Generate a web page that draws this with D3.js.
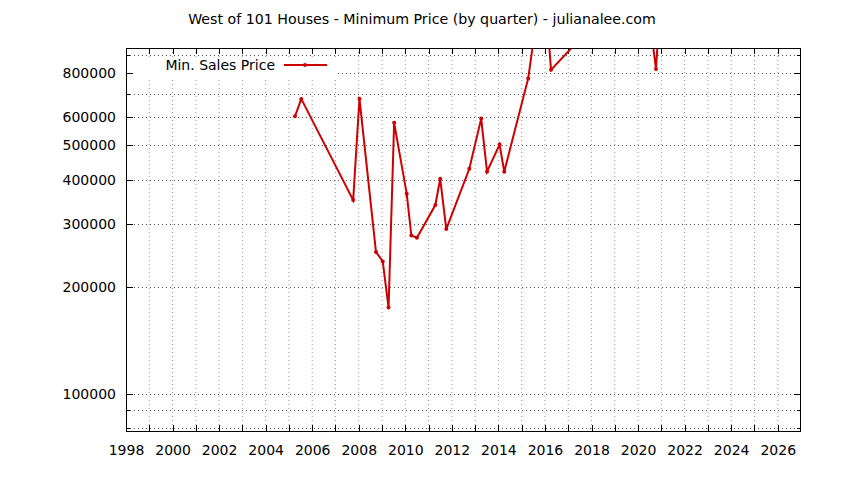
<!DOCTYPE html>
<html>
<head>
<meta charset="utf-8">
<script src="https://cdn.jsdelivr.net/npm/d3@7"></script>
<style>
  html, body { margin: 0; padding: 0; background: #fff; }
  svg { display: block; }
  text { font-family: "DejaVu Sans", sans-serif; fill: #000; }
</style>
</head>
<body>
<svg id="chart" width="844" height="480"></svg>
<script>
// ---- data ----
const chartTitle = "West of 101 Houses - Minimum Price (by quarter) - julianalee.com";
const seriesName = "Min. Sales Price";
// quarter positions (fractional year) and minimum sale price
const quarters = [
  2005.26, 2005.53, 2007.76, 2008.03, 2008.74, 2009.03, 2009.28, 2009.52,
  2010.06, 2010.26, 2010.50, 2011.29, 2011.50, 2011.76, 2012.75, 2013.26,
  2013.51, 2014.05, 2014.25, 2015.28, 2015.52, 2015.77, 2016.03, 2016.26,
  2017.27, 2017.52, 2018.03, 2018.52, 2019.03, 2019.52, 2020.03, 2020.52,
  2020.77, 2021.03, 2021.52
];
const minPrices = [
  604000, 676000, 351000, 677000, 251000, 236000, 175000, 579000,
  366000, 279000, 275000, 340000, 403000, 291000, 430000, 595000,
  422000, 503000, 422000, 772000, 1000000, 1150000, 1290000, 816000,
  960000, 1050000, 1200000, 1100000, 1300000, 1150000, 1250000, 1100000,
  821000, 1520000, 1400000
];
const xTickYears = [1998, 2000, 2002, 2004, 2006, 2008, 2010, 2012, 2014, 2016, 2018, 2020, 2022, 2024, 2026];
const xMinorYears = [1999, 2001, 2003, 2005, 2007, 2009, 2011, 2013, 2015, 2017, 2019, 2021, 2023, 2025];
const yTickValues = [100000, 200000, 300000, 400000, 500000, 600000, 800000];
const yMinorValues = [80000, 90000, 700000, 900000];
const xDomain = [1998, 2027];
const yDomain = [78700, 940000];

// ---- layout ----
const L = 126, R = 801, T = 48, B = 431;
const red = "#cc0000";

const svg = d3.select("#chart");
svg.append("rect").attr("width", 844).attr("height", 480).attr("fill", "#fff");

const x = d3.scaleLinear().domain(xDomain).range([L, R]);
const y = d3.scaleLog().domain(yDomain).range([B, T]);

// grid
const grid = svg.append("g");
grid.selectAll("line.vg").data(xTickYears.concat(xMinorYears).filter(v => v > xDomain[0] && v < xDomain[1]))
  .join("line")
  .attr("x1", d => x(d)).attr("x2", d => x(d))
  .attr("y1", T).attr("y2", B)
  .attr("stroke", "#9a9a9a").attr("stroke-width", 1).attr("stroke-dasharray", "1,3");
grid.selectAll("line.hg").data(yTickValues.concat(yMinorValues))
  .join("line")
  .attr("x1", L).attr("x2", R)
  .attr("y1", d => Math.round(y(d)) + 0.5).attr("y2", d => Math.round(y(d)) + 0.5)
  .attr("stroke", "#555").attr("stroke-width", 1).attr("stroke-dasharray", "1,3");

// opaque key box
svg.append("rect").attr("x", L + 1).attr("y", 57).attr("width", 336 - L - 1).attr("height", 21).attr("fill", "#fff");

// axes with d3 (bottom, left) and mirrored ticks (top, right)
const xAxisB = d3.axisBottom(x).tickValues(xTickYears).tickFormat(d3.format("d")).tickSize(0).tickPadding(14);
const gxb = svg.append("g").attr("transform", `translate(0,${B})`).call(xAxisB);
gxb.select(".domain").remove();
gxb.selectAll("text").attr("font-size", "14px").attr("font-family", "DejaVu Sans");

const yAxisL = d3.axisLeft(y).tickValues(yTickValues).tickFormat(d3.format("d")).tickSize(0).tickPadding(10);
const gyl = svg.append("g").attr("transform", `translate(${L},0)`).call(yAxisL);
gyl.select(".domain").remove();
gyl.selectAll("text").attr("font-size", "14px").attr("font-family", "DejaVu Sans");

// tick marks (inward, all four sides)
const tk = svg.append("g").attr("stroke", "#000").attr("stroke-width", 1);
const allX = xTickYears.concat(xMinorYears);
allX.forEach(v => {
  const px = Math.round(x(v)) + 0.5;
  tk.append("line").attr("x1", px).attr("x2", px).attr("y1", B).attr("y2", B - 6);
  tk.append("line").attr("x1", px).attr("x2", px).attr("y1", T).attr("y2", T + 6);
});
yTickValues.forEach(v => {
  const py = Math.round(y(v)) + 0.5;
  tk.append("line").attr("x1", L).attr("x2", L + 7).attr("y1", py).attr("y2", py);
  tk.append("line").attr("x1", R).attr("x2", R - 7).attr("y1", py).attr("y2", py);
});
yMinorValues.forEach(v => {
  const py = Math.round(y(v)) + 0.5;
  tk.append("line").attr("x1", L).attr("x2", L + 4).attr("y1", py).attr("y2", py);
  tk.append("line").attr("x1", R).attr("x2", R - 4).attr("y1", py).attr("y2", py);
});

// border
svg.append("rect").attr("x", L + 0.5).attr("y", T + 0.5).attr("width", R - L - 1).attr("height", B - T)
  .attr("fill", "none").attr("stroke", "#000").attr("stroke-width", 1);

// data
svg.append("clipPath").attr("id", "plotclip").append("rect")
  .attr("x", L).attr("y", T + 1).attr("width", R - L).attr("height", B - T - 1);
const data = quarters.map((q, i) => ({ q, v: minPrices[i] }));
const plot = svg.append("g").attr("clip-path", "url(#plotclip)");
plot.append("path").datum(data)
  .attr("d", d3.line().x(d => x(d.q)).y(d => y(d.v)))
  .attr("fill", "none").attr("stroke", red).attr("stroke-width", 2).attr("stroke-linejoin", "miter");
plot.selectAll("circle").data(data).join("circle")
  .attr("cx", d => x(d.q)).attr("cy", d => y(d.v)).attr("r", 2)
  .attr("fill", red);

// legend
svg.append("text").attr("x", 275).attr("y", 70).attr("text-anchor", "end")
  .attr("font-size", "14px").text(seriesName);
svg.append("line").attr("x1", 284).attr("x2", 327).attr("y1", 65).attr("y2", 65)
  .attr("stroke", red).attr("stroke-width", 2);
svg.append("circle").attr("cx", 305).attr("cy", 65).attr("r", 2).attr("fill", red);

// title
svg.append("text").attr("x", 422).attr("y", 24).attr("text-anchor", "middle")
  .attr("font-size", "14.2px").text(chartTitle);
</script>
</body>
</html>
